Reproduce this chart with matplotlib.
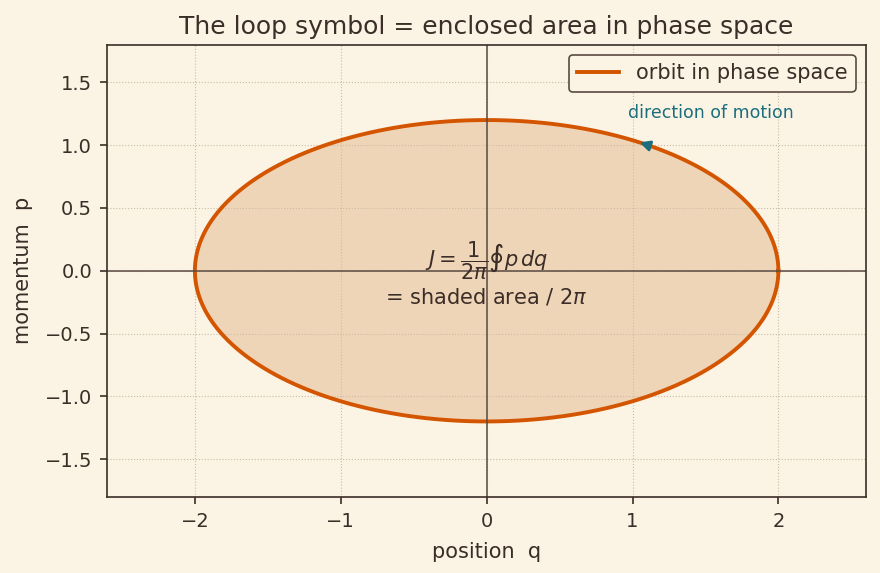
import numpy as np
import matplotlib.pyplot as plt

# orbit: ellipse semi-axes
q_amp = 2.0
p_amp = 1.2
n_pts = 400

bg = '#fbf3e4'
ink = '#3b2d27'
orange = '#d45500'
teal = '#1b6e7e'

plt.rcParams['text.color'] = ink
plt.rcParams['axes.labelcolor'] = ink
plt.rcParams['xtick.color'] = ink
plt.rcParams['ytick.color'] = ink

t = np.linspace(0, 2 * np.pi, n_pts)
q = q_amp * np.cos(t)
p = p_amp * np.sin(t)

fig = plt.figure(figsize=(8.8, 5.73), dpi=100, facecolor=bg)
ax = fig.add_axes([0.122, 0.133, 0.862, 0.789])
ax.set_facecolor(bg)

ax.fill(q, p, color='#efd5b8', lw=0)
ax.plot(q, p, color=orange, lw=2.8, label='orbit in phase space')
ax.axhline(0, color='#5a4a42', lw=1.1)
ax.axvline(0, color='#5a4a42', lw=1.1)

# direction arrow (counter-clockwise)
t0, t1 = 0.99, 1.03
ax.annotate('', xy=(q_amp * np.cos(t1), p_amp * np.sin(t1)),
            xytext=(q_amp * np.cos(t0), p_amp * np.sin(t0)),
            arrowprops=dict(arrowstyle='-|>', color=teal, lw=2, mutation_scale=15))
ax.text(0.97, 1.26, 'direction of motion', color=teal, fontsize=12.5, ha='left', va='center')

ax.text(0, -0.02, r'$J = \dfrac{1}{2\pi}\oint p\,dq$' + '\n' + r'= shaded area / $2\pi$',
        ha='center', va='center', fontsize=15, color=ink, linespacing=1.25)

ax.set_xlim(-2.6, 2.6)
ax.set_ylim(-1.8, 1.8)
ax.set_xticks([-2, -1, 0, 1, 2])
ax.set_xticklabels(['−2', '−1', '0', '1', '2'])
ax.set_yticks([-1.5, -1.0, -0.5, 0.0, 0.5, 1.0, 1.5])
ax.tick_params(labelsize=14, length=5, width=1.2, pad=6)
ax.grid(True, ls=':', color='#cbbca4', lw=0.8)
for s in ax.spines.values():
    s.set_color(ink)
    s.set_linewidth(1.2)

ax.set_xlabel('position  q', fontsize=15, labelpad=8)
ax.set_ylabel('momentum  p', fontsize=15, labelpad=8)
ax.set_title('The loop symbol = enclosed area in phase space', fontsize=18, color=ink, pad=8)

leg = ax.legend(loc='upper right', fontsize=15, facecolor=bg, edgecolor='#5a4a42', framealpha=1)
leg.get_frame().set_linewidth(1.2)

fig.savefig('out.png', dpi=100, facecolor=bg)
